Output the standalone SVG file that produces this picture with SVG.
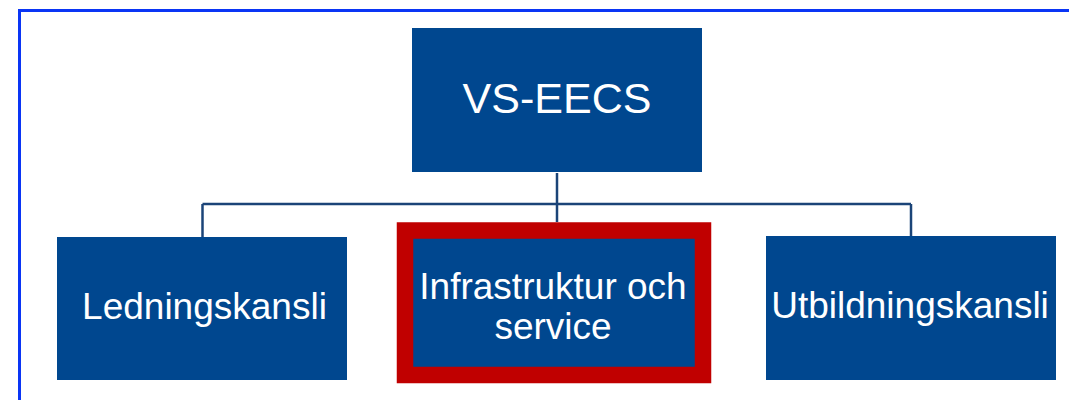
<svg xmlns="http://www.w3.org/2000/svg" width="1069" height="400" viewBox="0 0 1069 400">
  <style>
    .box { fill: #00478F; }
    .label { fill: #FFFFFF; font-family: "Liberation Sans", Arial, sans-serif; text-anchor: middle; }
    .wire { fill: none; stroke: #1B4478; stroke-width: 2.5; }
  </style>
  <rect width="1069" height="400" fill="#FFFFFF"/>
  <!-- outer frame -->
  <path d="M19.5,400 V10.5 H1069" fill="none" stroke="#0A35F5" stroke-width="3"/>

  <g id="connectors">
    <path class="wire" d="M557,173 V222"/>
    <path class="wire" d="M202.5,204 H911"/>
    <path class="wire" d="M202.5,204 V237"/>
    <path class="wire" d="M911,204 V236"/>
  </g>

  <g id="vs-eecs">
    <rect class="box" x="412" y="28" width="290" height="144"/>
    <text class="label" x="557" y="113" font-size="43">VS-EECS</text>
  </g>

  <g id="ledningskansli">
    <rect class="box" x="57" y="237" width="290" height="143"/>
    <text class="label" x="204.5" y="319" font-size="37">Ledningskansli</text>
  </g>

  <g id="infrastruktur">
    <rect class="box" x="405" y="230.5" width="298" height="144.5"/>
    <rect x="405" y="230.5" width="298" height="144.5" fill="none" stroke="#C00000" stroke-width="16.5"/>
    <text class="label" x="553" y="299" font-size="37">Infrastruktur och</text>
    <text class="label" x="553" y="339" font-size="37">service</text>
  </g>

  <g id="utbildningskansli">
    <rect class="box" x="766" y="236" width="290" height="144"/>
    <text class="label" x="910" y="318" font-size="37">Utbildningskansli</text>
  </g>
</svg>
